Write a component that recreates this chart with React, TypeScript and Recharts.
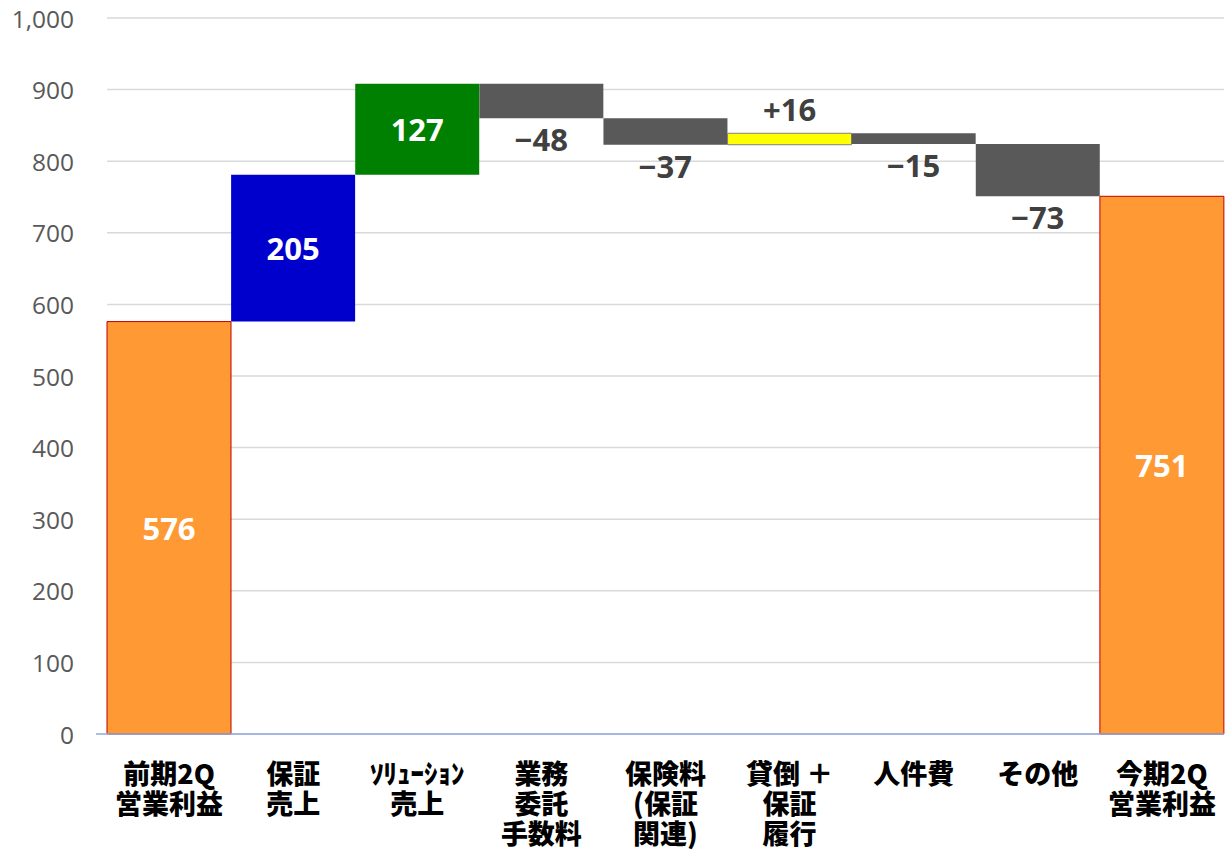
import React from 'react';
import { BarChart, Bar, XAxis, YAxis, CartesianGrid, Cell, LabelList } from 'recharts';

const categories = ['前期2Q\n営業利益', '保証\n売上', 'ｿﾘｭｰｼｮﾝ\n売上', '業務\n委託\n手数料', '保険料\n(保証\n関連)', '貸倒 ＋\n保証\n履行', '人件費', 'その他', '今期2Q\n営業利益'];
const changes = [576, 205, 127, -48, -37, 16, -15, -73, 751];
const isTotal = [true, false, false, false, false, false, false, false, true];
const labelTexts = ['576', '205', '127', '−48', '−37', '+16', '−15', '−73', '751'];
const labelPlaces = ['inside', 'inside', 'inside', 'below', 'below', 'above', 'below', 'below', 'inside'];
const barColors = ['#FF9933', '#0000CC', '#008000', '#595959', '#595959', '#FFFF00', '#595959', '#595959', '#FF9933'];
const barStrokes = ['#C00000', 'none', 'none', 'none', 'none', '#7F7F7F', 'none', 'none', '#C00000'];
const yTicks = [0, 100, 200, 300, 400, 500, 600, 700, 800, 900, 1000];

const data = (() => {
  let running = 0;
  return categories.map((name, i) => {
    let base: number;
    let size: number;
    if (isTotal[i]) {
      base = 0;
      size = changes[i];
      running = changes[i];
    } else {
      const end = running + changes[i];
      base = Math.min(running, end);
      size = Math.abs(changes[i]);
      running = end;
    }
    return { name, base, size, idx: i };
  });
})();

const XTick = (props: any) => {
  const { x, y, payload } = props;
  const lines = String(payload.value).split('\n');
  return (
    <foreignObject x={x - 70} y={y + 16} width={140} height={100}>
      <div style={{
        fontFamily: '"Noto Sans CJK JP", sans-serif', fontWeight: 900, fontSize: 27,
        lineHeight: '30px', textAlign: 'center', color: '#000', whiteSpace: 'nowrap',
      }}>
        {lines.map((l: string, k: number) => (
          <React.Fragment key={k}>{k > 0 && <br />}{l}</React.Fragment>
        ))}
      </div>
    </foreignObject>
  );
};

const YTick = (props: any) => {
  const { y, payload } = props;
  return (
    <g>
      <text x={74} y={y} textAnchor="end" dominantBaseline="central" fill="#595959"
        style={{ fontFamily: '"Open Sans", sans-serif', fontSize: 24.5 }}>
        {payload.value.toLocaleString('en-US')}
      </text>
      {payload.value === 0 && <line x1={96} x2={108} y1={y} y2={y} stroke="#8FAADC" strokeWidth={1.5} />}
    </g>
  );
};

const DataLabel = (props: any) => {
  const { x, y, width, height, index } = props;
  const place = labelPlaces[index];
  let cy = y + height / 2;
  let fill = '#FFFFFF';
  if (place === 'below') { cy = y + height + 21; fill = '#404040'; }
  if (place === 'above') { cy = y - 24; fill = '#404040'; }
  return (
    <text x={x + width / 2} y={cy} textAnchor="middle" dominantBaseline="central" fill={fill}
      style={{ fontFamily: '"Open Sans", sans-serif', fontWeight: 700, fontSize: 31 }}>
      {labelTexts[index]}
    </text>
  );
};

export default function App() {
  return (
    <div style={{ position: 'absolute', left: 0, top: 0, width: 1225, height: 857, background: '#fff' }}>
      <BarChart width={1225} height={857} data={data} barCategoryGap={0}
        margin={{ top: 18, right: 1, bottom: 0, left: 0 }}>
        <CartesianGrid vertical={false} stroke="#D9D9D9" strokeWidth={1.5} />
        <XAxis dataKey="name" height={123} tickLine={false} axisLine={{ stroke: '#8FAADC', strokeWidth: 1.5 }}
          tick={<XTick />} interval={0} />
        <YAxis width={107} domain={[0, 1000]} ticks={yTicks} tickLine={false} axisLine={false}
          tick={<YTick />} interval={0} />
        <Bar dataKey="base" stackId="a" fill="transparent" isAnimationActive={false} />
        <Bar dataKey="size" stackId="a" isAnimationActive={false}>
          {data.map((d, i) => (
            <Cell key={i} fill={barColors[i]} stroke={barStrokes[i]} strokeWidth={1} />
          ))}
          <LabelList dataKey="size" content={<DataLabel />} />
        </Bar>
      </BarChart>
    </div>
  );
}
